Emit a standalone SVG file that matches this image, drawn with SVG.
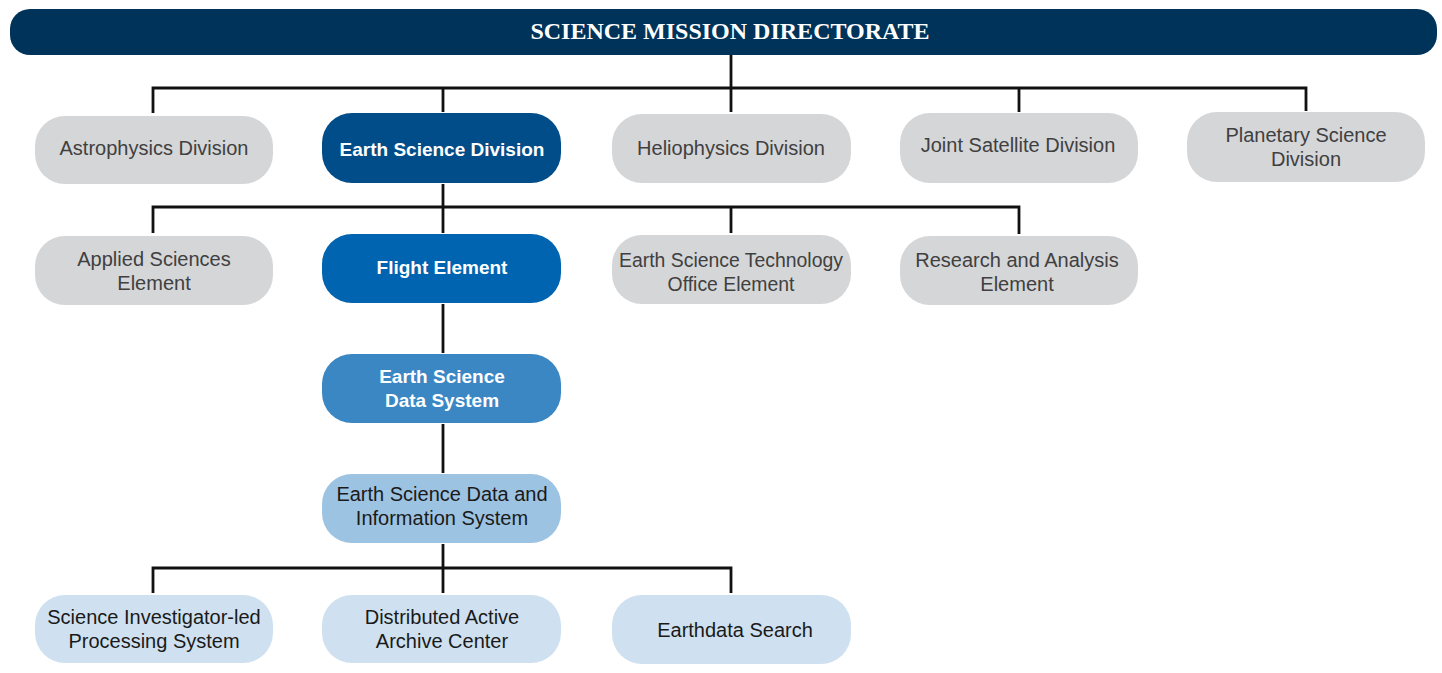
<svg xmlns="http://www.w3.org/2000/svg" width="1442" height="673" viewBox="0 0 1442 673">
  <style>
    .bg { fill: #ffffff; }
    .box { stroke: none; }
    .gray { fill: #d5d6d8; }
    .navy { fill: #004d8a; }
    .blue { fill: #0064b0; }
    .mid { fill: #3a87c4; }
    .light { fill: #9dc3e2; }
    .pale { fill: #cfe1f0; }
    .t { font-family: "Liberation Sans", Arial, sans-serif; font-size: 20px; text-anchor: middle; }
    .narrow { font-size: 19.4px; }
    .tg { fill: #404040; }
    .td { fill: #1a1a1a; }
    .tw { fill: #ffffff; font-weight: bold; font-size: 19px; }
    .head { font-family: "Liberation Serif", "Times New Roman", serif; font-weight: bold; font-size: 24px; fill: #ffffff; text-anchor: middle; }
    .link { fill: none; stroke: #111111; stroke-width: 2.8; }
  </style>

  <rect class="bg" x="0" y="0" width="1442" height="673"/>

  <!-- connectors -->
  <g id="connectors" class="link">
    <path d="M731 55 V88"/>
    <path d="M153 113 V88 H1306 V111"/>
    <path d="M443 88 V112"/>
    <path d="M731 88 V112"/>
    <path d="M1019 88 V112"/>
    <path d="M443 184 V207"/>
    <path d="M153 233 V207 H1019 V234"/>
    <path d="M443 207 V233"/>
    <path d="M731 207 V233"/>
    <path d="M443 304 V353"/>
    <path d="M443 424 V473"/>
    <path d="M443 544 V568"/>
    <path d="M153 593 V568 H731 V593"/>
    <path d="M443 568 V593"/>
  </g>

  <!-- top banner -->
  <g id="smd">
    <rect class="box" x="10" y="9" width="1427" height="46" rx="20" fill="#003359"/>
    <text class="head" x="730" y="39">SCIENCE MISSION DIRECTORATE</text>
  </g>

  <!-- divisions -->
  <g id="astrophysics">
    <rect class="box gray" x="35" y="116" width="238" height="68" rx="30"/>
    <text class="t tg" x="154" y="155">Astrophysics Division</text>
  </g>
  <g id="earth-science-division">
    <rect class="box navy" x="322" y="113" width="239" height="70" rx="30"/>
    <text class="t tw" x="442" y="156">Earth Science Division</text>
  </g>
  <g id="heliophysics">
    <rect class="box gray" x="612" y="114" width="239" height="69" rx="30"/>
    <text class="t tg" x="731" y="155">Heliophysics Division</text>
  </g>
  <g id="joint-satellite">
    <rect class="box gray" x="900" y="113" width="238" height="70" rx="30"/>
    <text class="t tg" x="1018" y="152">Joint Satellite Division</text>
  </g>
  <g id="planetary">
    <rect class="box gray" x="1187" y="112" width="238" height="70" rx="30"/>
    <text class="t tg" x="1306" y="142">Planetary Science</text>
    <text class="t tg" x="1306" y="166">Division</text>
  </g>

  <!-- earth science elements -->
  <g id="applied-sciences">
    <rect class="box gray" x="35" y="236" width="238" height="69" rx="30"/>
    <text class="t tg" x="154" y="266">Applied Sciences</text>
    <text class="t tg" x="154" y="290">Element</text>
  </g>
  <g id="flight-element">
    <rect class="box blue" x="322" y="234" width="239" height="69" rx="30"/>
    <text class="t tw" x="442" y="274">Flight Element</text>
  </g>
  <g id="esto">
    <rect class="box gray" x="612" y="235" width="239" height="69" rx="30"/>
    <text class="t tg narrow" x="731" y="267">Earth Science Technology</text>
    <text class="t tg narrow" x="731" y="291">Office Element</text>
  </g>
  <g id="research-analysis">
    <rect class="box gray" x="900" y="236" width="238" height="69" rx="30"/>
    <text class="t tg" x="1017" y="267">Research and Analysis</text>
    <text class="t tg" x="1017" y="291">Element</text>
  </g>

  <!-- data system chain -->
  <g id="esds">
    <rect class="box mid" x="322" y="354" width="239" height="69" rx="30"/>
    <text class="t tw" x="442" y="383">Earth Science</text>
    <text class="t tw" x="442" y="407">Data System</text>
  </g>
  <g id="esdis">
    <rect class="box light" x="322" y="474" width="239" height="69" rx="30"/>
    <text class="t td" x="442" y="501">Earth Science Data and</text>
    <text class="t td" x="442" y="525">Information System</text>
  </g>

  <!-- ESDIS components -->
  <g id="sips">
    <rect class="box pale" x="35" y="595" width="238" height="68" rx="30"/>
    <text class="t td" x="154" y="624">Science Investigator-led</text>
    <text class="t td" x="154" y="648">Processing System</text>
  </g>
  <g id="daac">
    <rect class="box pale" x="322" y="595" width="239" height="68" rx="30"/>
    <text class="t td" x="442" y="624">Distributed Active</text>
    <text class="t td" x="442" y="648">Archive Center</text>
  </g>
  <g id="earthdata-search">
    <rect class="box pale" x="612" y="595" width="239" height="69" rx="30"/>
    <text class="t td" x="735" y="637">Earthdata Search</text>
  </g>
</svg>
